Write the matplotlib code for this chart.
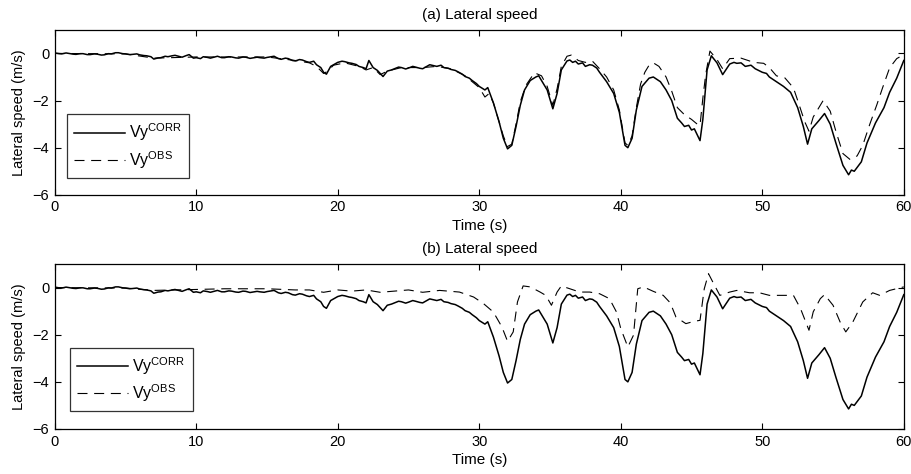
"""
Lateral speed: corrected vs observer estimate, two panels.
"""

import matplotlib

matplotlib.use("Agg")
import matplotlib.pyplot as plt
import numpy as np

plt.rcParams["font.family"] = ["Liberation Sans", "DejaVu Sans"]
plt.rcParams["mathtext.fontset"] = "custom"
plt.rcParams["mathtext.rm"] = "Liberation Sans"
plt.rcParams["font.size"] = 10

# corrected lateral speed (same signal in both panels)
t_corr = [0.0, 0.3, 0.5, 0.8, 1.0, 1.3, 1.5, 1.8, 2.0, 2.3, 2.5, 2.8, 3.0, 3.3, 3.5,
          3.8, 4.0, 4.3, 4.5, 4.8, 5.0, 5.3, 5.5, 5.8, 6.0, 6.3, 6.5, 6.8, 7.0, 7.3,
          7.5, 7.8, 8.0, 8.3, 8.5, 8.8, 9.0, 9.3, 9.5, 9.8, 10.0, 10.3, 10.5, 10.8,
          11.0, 11.3, 11.5, 11.8, 12.0, 12.3, 12.5, 12.8, 13.0, 13.3, 13.5, 13.8,
          14.0, 14.3, 14.5, 14.8, 15.0, 15.3, 15.5, 15.8, 16.0, 16.3, 16.5, 16.8,
          17.0, 17.3, 17.5, 17.8, 18.0, 18.3, 18.5, 18.8, 19.0, 19.2, 19.5, 19.8,
          20.0, 20.3, 20.5, 20.8, 21.0, 21.3, 21.5, 21.8, 22.0, 22.2, 22.5, 22.8,
          23.0, 23.2, 23.5, 23.8, 24.0, 24.3, 24.5, 24.8, 25.0, 25.3, 25.5, 25.8,
          26.0, 26.3, 26.5, 26.8, 27.0, 27.3, 27.5, 27.8, 28.0, 28.3, 28.5, 28.8,
          29.0, 29.3, 29.5, 29.8, 30.0, 30.4, 30.6, 31.0, 31.4, 31.7, 32.0, 32.3,
          32.6, 32.9, 33.2, 33.6, 34.0, 34.2, 34.4, 34.8, 35.2, 35.5, 35.8, 36.2,
          36.4, 36.6, 36.8, 37.0, 37.3, 37.5, 37.8, 38.0, 38.3, 38.5, 39.0, 39.5,
          39.9, 40.3, 40.5, 40.8, 41.1, 41.5, 42.0, 42.3, 42.5, 42.8, 43.2, 43.6,
          44.0, 44.3, 44.5, 44.8, 45.0, 45.2, 45.4, 45.6, 45.8, 46.1, 46.4, 46.8,
          47.2, 47.7, 48.0, 48.2, 48.5, 48.8, 49.2, 49.5, 50.0, 50.3, 50.5, 51.0,
          51.5, 52.0, 52.5, 52.9, 53.2, 53.5, 54.0, 54.4, 54.8, 55.2, 55.7, 56.1,
          56.3, 56.5, 57.0, 57.4, 58.0, 58.6, 59.0, 59.5, 60.0]
vy_corr = [0.02, -0.01, -0.02, 0.02, 0.0, -0.03, -0.04, -0.01, -0.01, -0.05, -0.05,
           -0.02, -0.03, -0.07, -0.06, -0.01, -0.02, 0.03, 0.03, -0.01, -0.02, -0.05,
           -0.04, -0.02, -0.06, -0.09, -0.10, -0.14, -0.24, -0.19, -0.18, -0.12, -0.14,
           -0.10, -0.08, -0.13, -0.16, -0.09, -0.05, -0.20, -0.18, -0.22, -0.14, -0.17,
           -0.20, -0.15, -0.12, -0.18, -0.18, -0.14, -0.15, -0.19, -0.20, -0.15, -0.16,
           -0.21, -0.19, -0.16, -0.18, -0.20, -0.17, -0.14, -0.12, -0.22, -0.25, -0.20,
           -0.22, -0.30, -0.32, -0.26, -0.28, -0.35, -0.38, -0.33, -0.48, -0.60, -0.80,
           -0.88, -0.55, -0.45, -0.38, -0.33, -0.35, -0.40, -0.42, -0.47, -0.55, -0.60,
           -0.65, -0.30, -0.60, -0.72, -0.85, -0.98, -0.75, -0.70, -0.65, -0.58, -0.60,
           -0.66, -0.62, -0.55, -0.58, -0.63, -0.65, -0.55, -0.48, -0.52, -0.55, -0.50,
           -0.60, -0.63, -0.68, -0.72, -0.78, -0.88, -0.98, -1.05, -1.15, -1.28, -1.40,
           -1.55, -1.45, -2.10, -2.90, -3.60, -4.05, -3.90, -3.10, -2.20, -1.55, -1.15,
           -1.00, -0.95, -1.15, -1.55, -2.35, -1.70, -0.70, -0.32, -0.28, -0.38, -0.33,
           -0.45, -0.40, -0.55, -0.48, -0.50, -0.62, -0.80, -1.20, -1.70, -2.50, -3.90,
           -4.00, -3.60, -2.40, -1.40, -1.05, -1.00, -1.08, -1.20, -1.55, -2.00, -2.75,
           -2.95, -3.10, -3.05, -3.25, -3.20, -3.45, -3.70, -2.80, -0.70, -0.10, -0.40,
           -0.90, -0.45, -0.38, -0.42, -0.40, -0.55, -0.50, -0.65, -0.80, -0.85, -1.00,
           -1.20, -1.40, -1.65, -2.30, -3.10, -3.85, -3.20, -2.85, -2.55, -3.00, -3.80,
           -4.75, -5.15, -4.95, -5.00, -4.60, -3.80, -2.95, -2.30, -1.65, -1.05, -0.30]

# observer estimate, panel (a)
t_obs_a = [0.0, 5.0, 7.0, 10.0, 15.0, 17.0, 18.0, 18.5, 19.0, 19.3, 19.7, 20.5, 21.5,
           22.0, 22.5, 23.0, 23.5, 24.5, 26.0, 27.0, 28.0, 29.0, 30.0, 30.4, 30.7,
           31.0, 31.4, 31.7, 32.0, 32.3, 32.6, 32.9, 33.3, 33.9, 34.4, 34.8, 35.2,
           35.5, 35.8, 36.2, 36.5, 37.0, 37.5, 38.0, 38.5, 39.0, 39.5, 39.9, 40.3,
           40.5, 40.8, 41.1, 41.4, 41.7, 42.0, 42.3, 42.7, 43.2, 43.6, 44.0, 44.5,
           45.0, 45.4, 45.6, 45.8, 46.0, 46.3, 46.8, 47.2, 47.7, 48.5, 49.4, 50.1,
           50.5, 51.0, 51.6, 52.2, 52.6, 53.0, 53.3, 53.6, 54.0, 54.3, 54.8, 55.2,
           55.7, 56.2, 56.7, 57.1, 57.6, 58.1, 58.5, 59.0, 59.5, 60.0]
vy_obs_a = [0.0, -0.02, -0.20, -0.15, -0.15, -0.30, -0.40, -0.55, -0.85, -0.75, -0.50,
            -0.40, -0.55, -0.70, -0.60, -0.90, -0.75, -0.60, -0.60, -0.55, -0.65, -0.95,
            -1.45, -1.85, -1.70, -2.10, -2.90, -3.50, -3.95, -3.85, -3.00, -2.05, -1.35,
            -0.82, -0.95, -1.40, -2.20, -1.50, -0.55, -0.12, -0.07, -0.30, -0.38, -0.33,
            -0.65, -1.00, -1.55, -2.40, -3.80, -3.90, -3.50, -2.30, -1.30, -0.80, -0.50,
            -0.40, -0.55, -1.00, -1.60, -2.30, -2.60, -2.80, -3.00, -3.05, -1.90, -0.90,
            0.10, -0.26, -0.65, -0.22, -0.20, -0.38, -0.42, -0.60, -0.95, -1.04, -1.46,
            -2.17, -2.90, -3.30, -2.70, -2.30, -2.00, -2.45, -3.30, -4.25, -4.50, -4.35,
            -3.90, -3.00, -2.17, -1.46, -0.61, -0.22, -0.05]

# observer estimate, panel (b)
t_obs_b = [0.0, 5.0, 7.0, 10.0, 12.0, 15.0, 17.0, 18.0, 19.0, 20.0, 21.0, 22.0, 23.0,
           24.0, 25.0, 26.0, 27.2, 28.6, 29.6, 30.3, 31.0, 31.6, 32.0, 32.4, 32.7,
           33.1, 33.6, 34.3, 34.7, 35.1, 35.5, 35.8, 36.4, 37.1, 37.8, 38.5, 39.2,
           39.7, 40.0, 40.5, 40.9, 41.2, 41.6, 42.3, 43.0, 43.5, 43.9, 44.6, 45.2,
           45.6, 45.9, 46.2, 46.5, 47.0, 47.7, 48.2, 49.1, 49.8, 50.5, 51.5, 52.2,
           52.7, 53.3, 53.6, 54.1, 54.4, 55.0, 55.5, 55.9, 56.4, 57.1, 57.8, 58.3,
           59.0, 60.0]
vy_obs_b = [0.0, -0.02, -0.12, -0.08, -0.05, -0.05, -0.10, -0.10, -0.20, -0.10, -0.15,
            -0.10, -0.20, -0.15, -0.10, -0.20, -0.12, -0.19, -0.40, -0.68, -1.04, -1.67,
            -2.28, -1.88, -0.61, 0.07, 0.03, -0.19, -0.33, -0.75, -0.19, 0.07, -0.05,
            -0.19, -0.19, -0.26, -0.47, -1.04, -1.74, -2.52, -2.02, -0.05, 0.03, -0.16,
            -0.33, -0.65, -1.25, -1.53, -1.43, -1.39, -0.05, 0.59, 0.24, -0.33, -0.19,
            -0.12, -0.22, -0.22, -0.33, -0.33, -0.33, -0.89, -1.81, -1.03, -0.47, -0.30,
            -0.75, -1.46, -1.88, -1.46, -0.61, -0.22, -0.33, -0.12, 0.03]

titles = ["(a) Lateral speed", "(b) Lateral speed"]
obs_series = [(t_obs_a, vy_obs_a), (t_obs_b, vy_obs_b)]
axes_rects = [[0.060, 0.589, 0.931, 0.348], [0.060, 0.095, 0.931, 0.348]]
legend_boxes = [(0.014, 0.103), (0.018, 0.109)]

fig = plt.figure(figsize=(9.12, 4.74), dpi=100)

for rect, title, (t_obs, vy_obs), lb in zip(axes_rects, titles, obs_series, legend_boxes):
    ax = fig.add_axes(rect)
    ax.plot(t_corr, vy_corr, color="black", lw=1.1, label="Vy$^{\\rm CORR}$")
    ax.plot(t_obs, vy_obs, color="black", lw=0.8, ls=(0, (9, 6)), label="Vy$^{\\rm OBS}$")
    ax.set_xlim(0, 60)
    ax.set_ylim(-6, 1)
    ax.set_xticks(np.arange(0, 61, 10))
    ax.set_yticks([-6, -4, -2, 0])
    ax.tick_params(direction="in", top=True, right=True, length=4, width=0.8,
                   labelsize=10.5, pad=4)
    for sp in ax.spines.values():
        sp.set_linewidth(0.9)
    ax.set_title(title, fontsize=11, pad=8)
    ax.set_xlabel("Time (s)", fontsize=11)
    ax.xaxis.set_label_coords(0.5, -0.148)
    ax.set_ylabel("Lateral speed (m/s)", fontsize=10.5)
    ax.yaxis.set_label_coords(-0.034, 0.5)
    leg = ax.legend(loc="lower left", bbox_to_anchor=lb, borderaxespad=0, frameon=True,
                    fancybox=False, edgecolor="black", handlelength=3.2, borderpad=0.45,
                    labelspacing=0.35, handletextpad=0.25, fontsize=11.5)
    leg.get_frame().set_linewidth(0.9)

fig.savefig("out.png", dpi=100)
